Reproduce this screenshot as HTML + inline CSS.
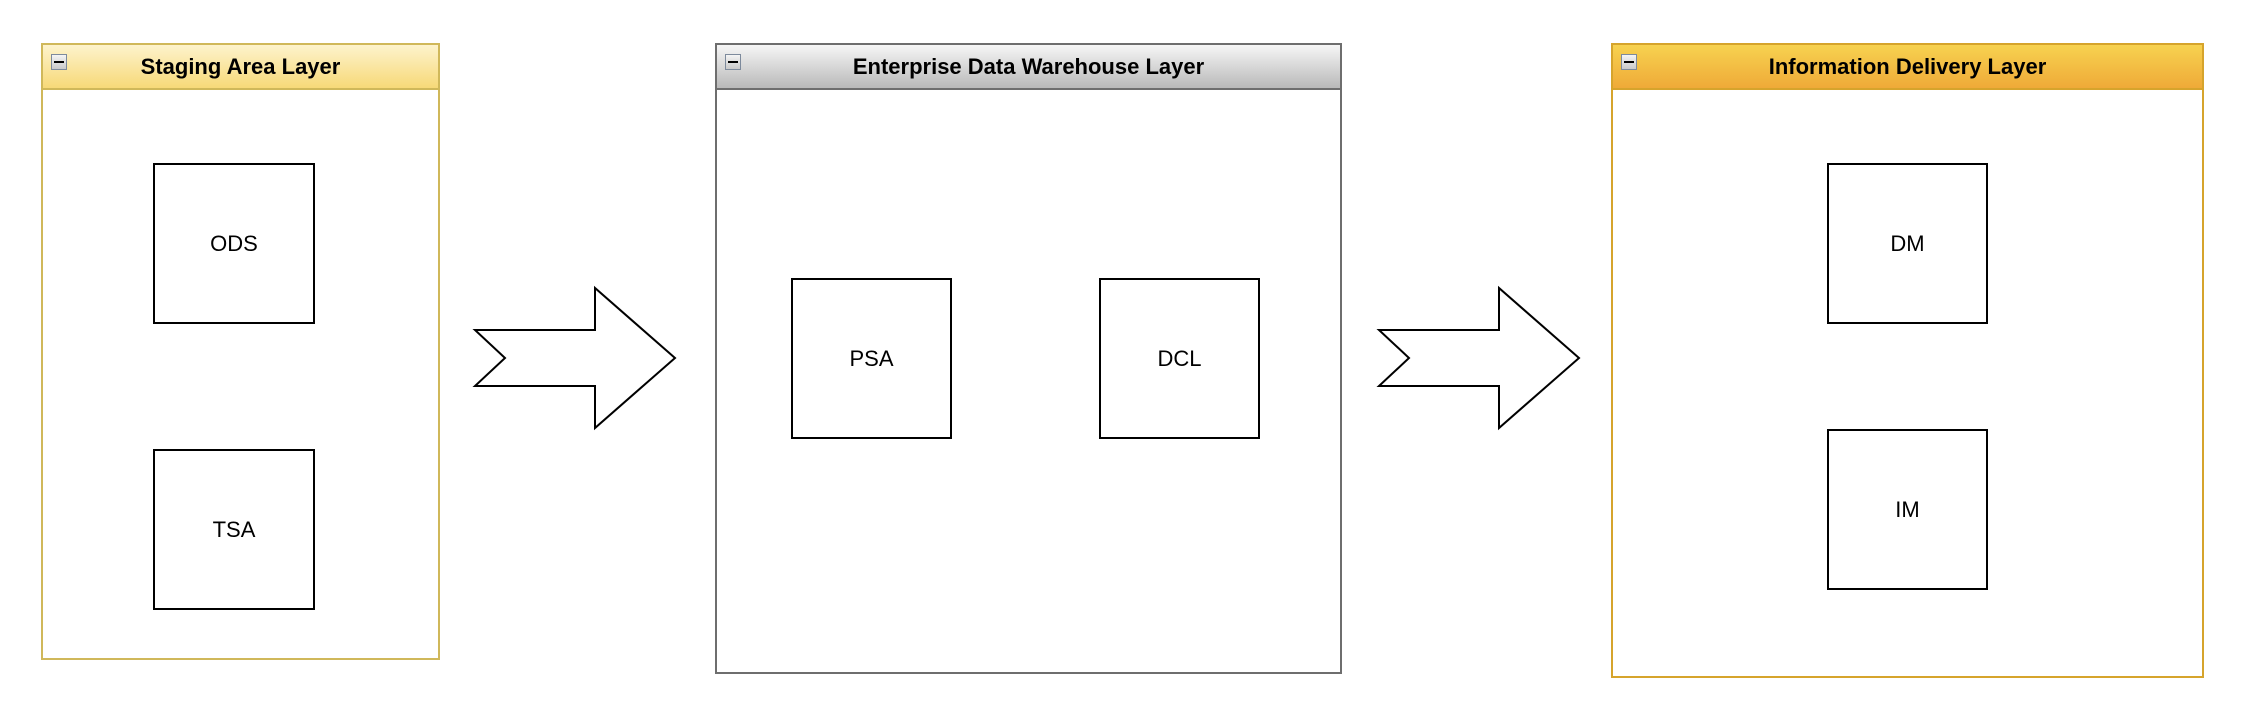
<!DOCTYPE html>
<html><head><meta charset="utf-8"><style>
html,body{margin:0;padding:0;background:#fff;}
body{width:2260px;height:718px;position:relative;overflow:hidden;font-family:"Liberation Sans",Arial,sans-serif;}
.c{position:absolute;box-sizing:border-box;border:2px solid;background:#fff;}
.h{position:absolute;left:0;top:0;right:0;height:45px;box-sizing:border-box;border-bottom:2px solid;font-weight:bold;font-size:22px;text-align:center;line-height:44px;}
.ic{position:absolute;left:8px;top:9px;width:16px;height:16px;box-sizing:border-box;border:1.5px solid #7d8a9c;background:linear-gradient(#f4f4f4,#c9c9c9);}
.ic:after{content:"";position:absolute;left:2px;right:2px;top:6px;height:2px;background:#000;}
.b{position:absolute;box-sizing:border-box;border:2px solid #000;background:#fff;font-size:22px;display:flex;align-items:center;justify-content:center;}
</style></head><body>
<div class="c" style="left:41px;top:43px;width:399px;height:617px;border-color:#d0b85a;">
 <div class="h" style="border-color:#d0b85a;background:linear-gradient(#fdf3cc,#f7d978);"><div class="ic"></div>Staging Area Layer</div>
</div>
<div class="c" style="left:715px;top:43px;width:627px;height:631px;border-color:#6e6e6e;">
 <div class="h" style="border-color:#6e6e6e;background:linear-gradient(#f6f6f6,#b9b9b9);"><div class="ic"></div>Enterprise Data Warehouse Layer</div>
</div>
<div class="c" style="left:1611px;top:43px;width:593px;height:635px;border-color:#d6a42c;">
 <div class="h" style="border-color:#d6a42c;background:linear-gradient(#f7d250,#efaa38);"><div class="ic"></div>Information Delivery Layer</div>
</div>
<div class="b" style="left:153px;top:163px;width:162px;height:161px;">ODS</div>
<div class="b" style="left:153px;top:449px;width:162px;height:161px;">TSA</div>
<div class="b" style="left:791px;top:278px;width:161px;height:161px;">PSA</div>
<div class="b" style="left:1099px;top:278px;width:161px;height:161px;">DCL</div>
<div class="b" style="left:1827px;top:163px;width:161px;height:161px;">DM</div>
<div class="b" style="left:1827px;top:429px;width:161px;height:161px;">IM</div>
<svg style="position:absolute;left:0;top:0" width="2260" height="718">
 <polygon points="475,330 595,330 595,288 675,358 595,428 595,386 475,386 505,358" fill="#fff" stroke="#000" stroke-width="2"/>
 <polygon points="1379,330 1499,330 1499,288 1579,358 1499,428 1499,386 1379,386 1409,358" fill="#fff" stroke="#000" stroke-width="2"/>
</svg>
</body></html>
